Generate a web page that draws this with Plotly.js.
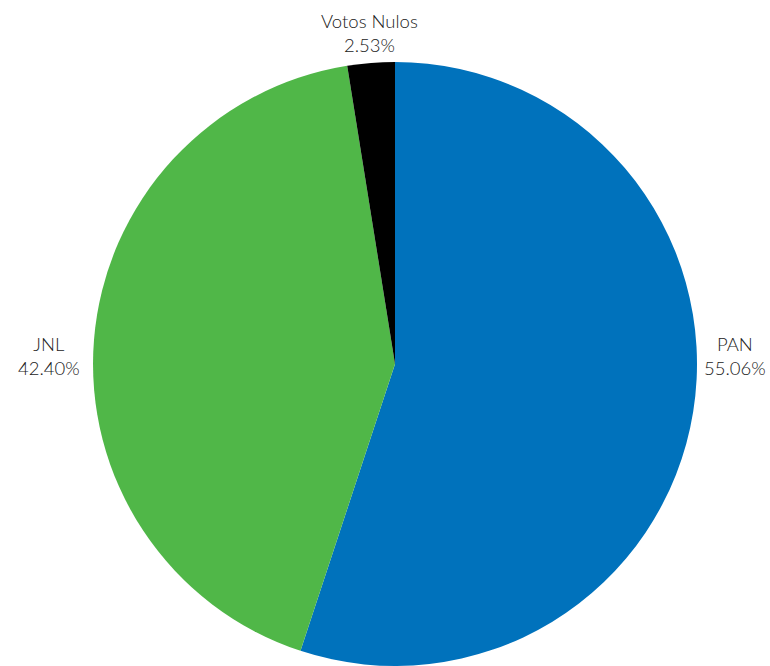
<!DOCTYPE html>
<html>
<head>
<meta charset="utf-8">
<script src="https://cdn.plot.ly/plotly-3.0.1.min.js"></script>
<style>html,body{margin:0;padding:0;background:#fff;}#chart{width:770px;height:666px;}</style>
</head>
<body>
<div id="chart"></div>
<script>
const labels = ["PAN", "JNL", "Votos Nulos"];
const values = [55.06, 42.40, 2.53];
const colors = ["#0072BC", "#50B748", "#000000"];

// label placement (paper coordinates), kept apart from the data
const labelX = [0.9545, 0.0636, 0.4805];
const labelY = [0.4655, 0.4655, 0.9497];

const trace = {
  type: "pie",
  labels: labels,
  values: values,
  sort: false,
  direction: "clockwise",
  rotation: 0,
  marker: {colors: colors, line: {width: 0}},
  textinfo: "none",
  textposition: "none",
  hoverinfo: "label+value",
  domain: {x: [0.1208, 0.9052], y: [0, 0.907]},
  automargin: false,
  showlegend: false
};

const annotations = labels.map((lab, i) => ({
  xref: "paper", yref: "paper",
  x: labelX[i], y: labelY[i],
  xanchor: "center", yanchor: "middle",
  showarrow: false,
  align: "center",
  text: lab + "<br>" + values[i].toFixed(2) + "%",
  font: {family: "Lato, sans-serif", size: 18.5, color: "#1a1a1a", weight: 300}
}));

const layout = {
  width: 770,
  height: 666,
  margin: {l: 0, r: 0, t: 0, b: 0},
  paper_bgcolor: "#ffffff",
  showlegend: false,
  annotations: annotations
};

Plotly.newPlot("chart", [trace], layout, {displayModeBar: false, staticPlot: true});
</script>
</body>
</html>
